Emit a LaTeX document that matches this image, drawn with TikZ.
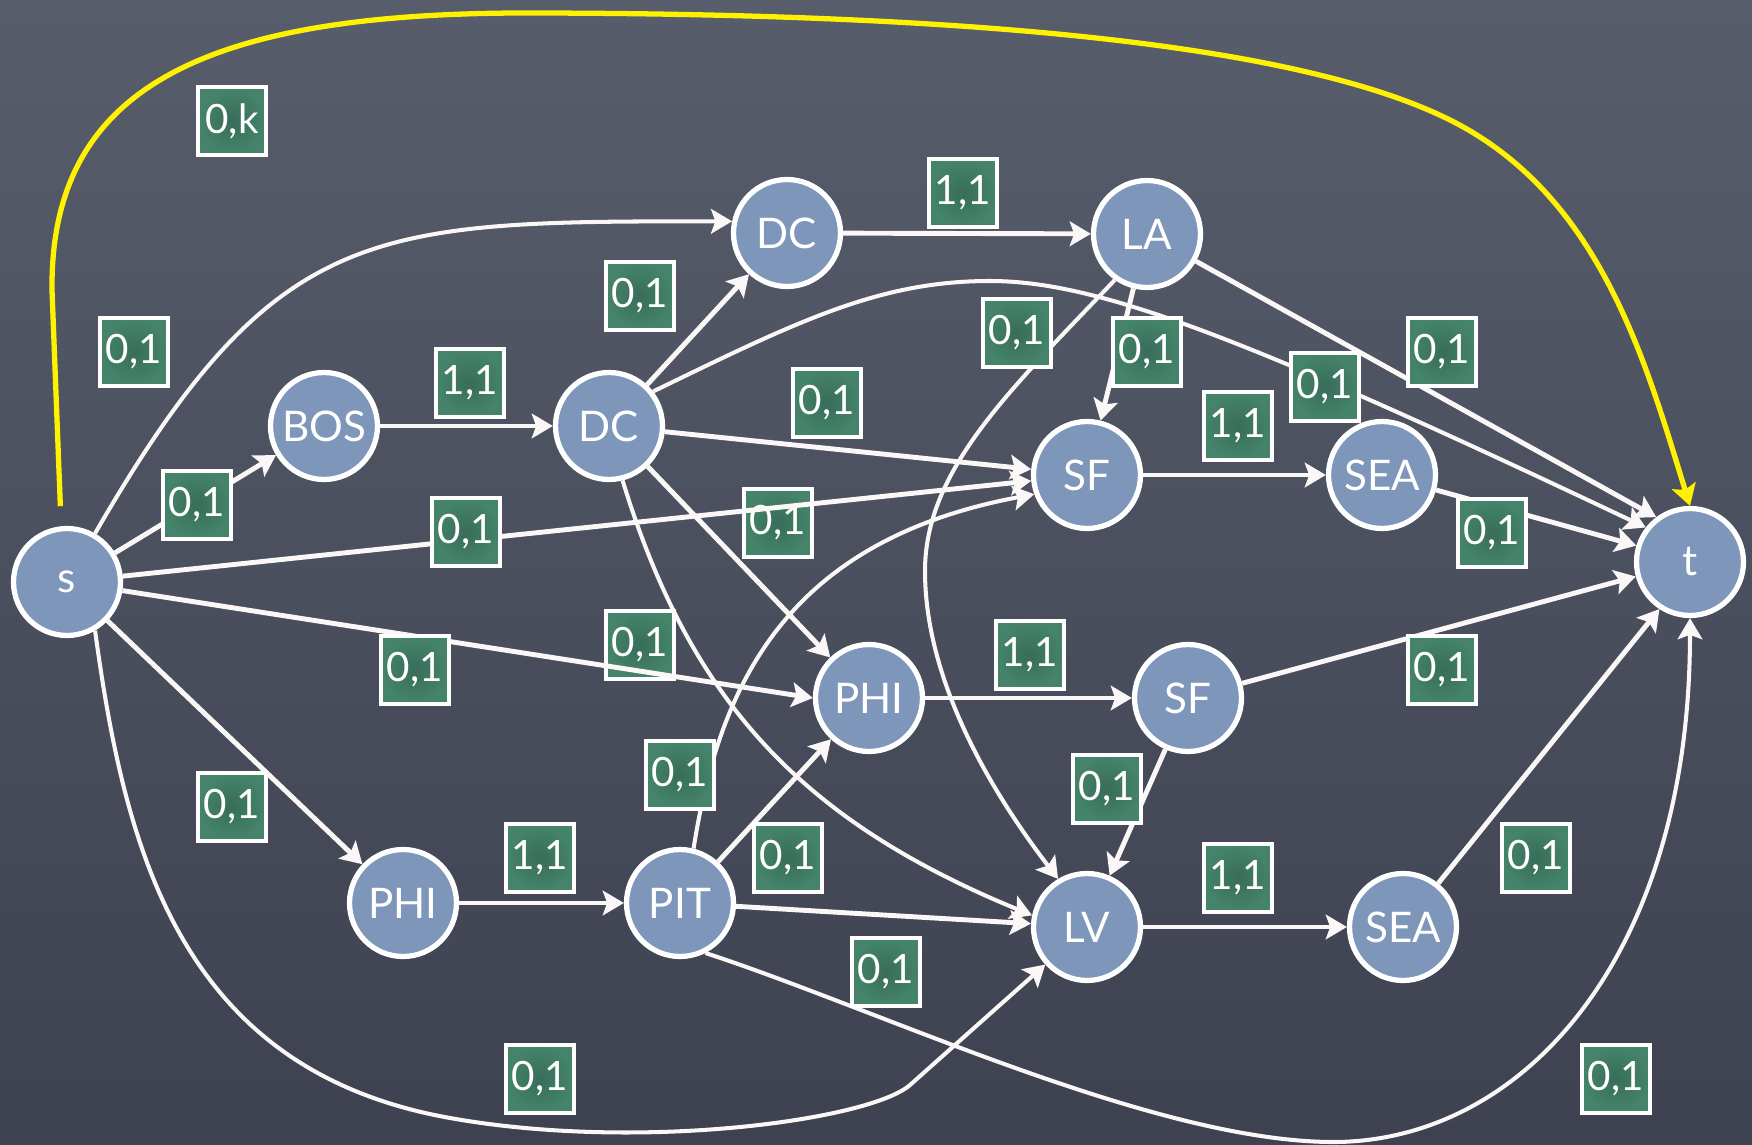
\documentclass[tikz,border=0pt]{standalone}
\usepackage{fontspec}
\setmainfont{Lato}
\definecolor{boardtop}{HTML}{585D6B}
\definecolor{boardlow}{HTML}{3E4250}
\definecolor{cityblue}{HTML}{7D96BA}
\definecolor{capgreen}{HTML}{45846B}
\definecolor{capdeep}{HTML}{386D59}
\definecolor{chalk}{HTML}{FBF7F7}
\definecolor{hilite}{HTML}{FFF200}
\usetikzlibrary{arrows.meta}

\begin{document}
\begin{tikzpicture}[x=0.02cm, y=-0.02cm,
    city/.style={circle, draw=white, line width=3pt, fill=cityblue, minimum size=2.14cm, inner sep=0pt, text=white, font=\fontsize{24}{26}\selectfont},
    captag/.style={draw=white, line width=2.8pt, inner color=capdeep, outer color=capgreen, minimum size=1.36cm, inner sep=0pt, text=white, font=\fontsize{23}{25}\selectfont},
    flow/.style={draw=chalk, line width=2.8pt, -{Stealth[length=12pt, width=14pt, inset=2.5pt]}},
    swing/.style={flow, line width=2.3pt}]
        \useasboundingbox (0,0) rectangle (1752,1145);
        \fill[top color=boardtop, bottom color=boardlow] (0,0) rectangle (1752,1145);

        \node[city] (s) at (67,582) {s};
        \node[city] (bos) at (324,426) {BOS};
        \node[city] (dcm) at (609,426) {DC};
        \node[city] (dct) at (787,233) {DC};
        \node[city] (la) at (1147,234) {LA};
        \node[city] (sfa) at (1087,475) {SF};
        \node[city] (seaa) at (1382,475) {SEA};
        \node[city] (t) at (1690,562) {t};
        \node[city] (phia) at (869,698) {PHI};
        \node[city] (sfb) at (1188,698) {SF};
        \node[city] (phib) at (403,903) {PHI};
        \node[city] (pit) at (680,903) {PIT};
        \node[city] (lv) at (1087,927) {LV};
        \node[city] (seab) at (1403,927) {SEA};

        % these two sit below the lines from s
        \node[captag] (c-dclv) at (778,523) {0,1};
        \node[captag] (c-dcphi) at (640,645) {0,1};

        \draw[flow, draw=hilite, line width=3pt, shorten <=0.4cm] (s.96) -- (52,290) .. controls (50,90) and (200,14) .. (520,13) .. controls (900,13) and (1280,35) .. (1450,120) .. controls (1600,195) and (1645,360) .. (t.90);

        \draw[swing] (s.60) to[out=60, in=180, looseness=1.3] (dct.168);
        \draw[flow] (s) -- (bos);
        \draw[flow] (bos) -- (dcm);
        \draw[flow] (dcm) -- (dct);
        \draw[flow] (dct) -- (la);
        \draw[swing] (dcm.38) .. controls (800,320) and (880,281) .. (990,281) .. controls (1100,281) and (1250,340) .. (t.142);
        \draw[flow] (dcm) -- (sfa);
        \draw[flow] (dcm) -- (phia);
        \draw[swing] (dcm.284) .. controls (690,700) and (800,820) .. (lv.168);
        \draw[flow] (la) -- (sfa);
        \draw[swing] (la.235) .. controls (1010,390) and (925,470) .. (925,571) .. controls (925,680) and (990,790) .. (lv.121);
        \draw[flow] (la) -- (t.127);
        \draw[flow] (sfa) -- (seaa);
        \draw[flow] (seaa) -- (t.163);
        \draw[flow] (s) -- (sfa);
        \draw[flow] (s) -- (phia.west);
        \draw[flow] (s) -- (phib);
        \draw[swing] (s.-60) .. controls (125,850) and (180,1070) .. (450,1118) .. controls (640,1152) and (870,1120) .. (910,1085) -- (lv.222);
        \draw[flow] (phib) -- (pit);
        \draw[swing] (pit.76) .. controls (720,680) and (790,540) .. (sfa.200);
        \draw[flow] (pit) -- (phia);
        \draw[flow] (pit) -- (lv);
        \draw[swing] (pit.-63) .. controls (880,1010) and (1150,1140) .. (1330,1142) .. controls (1520,1144) and (1690,960) .. (t.270);
        \draw[flow] (phia) -- (sfb);
        \draw[flow] (sfb) -- (t.195);
        \draw[flow] (sfb) -- (lv);
        \draw[flow] (lv) -- (seab);
        \draw[flow] (seab) -- (t.237);

        \node[captag] (c-st) at (232,121) {0,k};
        \node[captag] (c-sdct) at (134,352) {0,1};
        \node[captag] (c-sbos) at (197,505) {0,1};
        \node[captag] (c-bosdc) at (470,383) {1,1};
        \node[captag] (c-dcdc) at (640,296) {0,1};
        \node[captag] (c-dcla) at (963,193) {1,1};
        \node[captag] (c-lalv) at (1017,333) {0,1};
        \node[captag] (c-lasf) at (1147,352) {0,1};
        \node[captag] (c-dcsf) at (827,403) {0,1};
        \node[captag] (c-dct) at (1325,387) {0,1};
        \node[captag] (c-lat) at (1442,352) {0,1};
        \node[captag] (c-sfsea) at (1238,426) {1,1};
        \node[captag] (c-seat) at (1492,533) {0,1};
        \node[captag] (c-ssf) at (466,532) {0,1};
        \node[captag] (c-phisf) at (1030,655) {1,1};
        \node[captag] (c-sft) at (1442,670) {0,1};
        \node[captag] (c-sphi) at (415,670) {0,1};
        \node[captag] (c-sphib) at (232,807) {0,1};
        \node[captag] (c-pitsf) at (680,775) {0,1};
        \node[captag] (c-sflv) at (1107,789) {0,1};
        \node[captag] (c-phipit) at (540,858) {1,1};
        \node[captag] (c-pitphi) at (788,858) {0,1};
        \node[captag] (c-lvsea) at (1238,878) {1,1};
        \node[captag] (c-seabt) at (1536,858) {0,1};
        \node[captag] (c-pitlv) at (886,972) {0,1};
        \node[captag] (c-slv) at (540,1079) {0,1};
        \node[captag] (c-pitt) at (1616,1079) {0,1};
      \end{tikzpicture}
\end{document}
